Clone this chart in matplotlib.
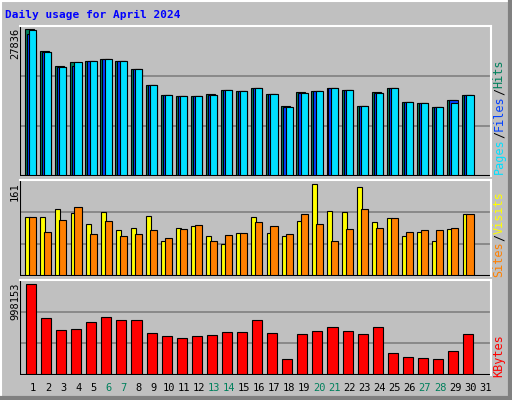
import matplotlib
matplotlib.use("Agg")
import matplotlib.pyplot as plt
from matplotlib.patches import Rectangle
import numpy as np

days = list(range(1, 32))
weekend = [6, 7, 13, 14, 20, 21, 27, 28]
hits = [27836, 23660, 20813, 21572, 21762, 22142, 21762, 20244, 17207, 15309, 15120, 15120, 15499, 16258, 16068,
        16638, 15499, 13222, 15879, 16068, 16638, 16258, 13222, 15879, 16638, 13981, 13791, 13032, 14361, 15309, 0]
files = [26950, 23470, 20624, 20877, 21762, 22142, 21762, 20244, 17207, 15309, 15120, 15120, 15309, 16258, 16068,
         16638, 15499, 13032, 15689, 16068, 16638, 16258, 13222, 15689, 16638, 13981, 13791, 13032, 14361, 15309, 0]
pages = [27646, 23470, 20624, 21572, 21762, 22142, 21762, 20244, 17207, 15309, 15120, 15120, 15309, 16258, 16068,
         16638, 15499, 13032, 15689, 16068, 16638, 16258, 13222, 15689, 16638, 13981, 13791, 13032, 13791, 15309, 0]
visits = [103, 103, 118, 110, 92, 112, 80, 85, 105, 62, 85, 87, 70, 57, 75,
          103, 75, 70, 96, 161, 115, 112, 156, 94, 101, 70, 77, 61, 82, 108, 0]
sites = [103, 78, 99, 122, 73, 96, 70, 73, 80, 66, 82, 89, 61, 72, 75,
         94, 87, 73, 108, 91, 61, 82, 117, 84, 101, 77, 80, 80, 85, 108, 0]
kbytes = [998153, 623000, 492000, 503000, 579000, 634000, 601000, 601000, 459000, 426000, 405000, 426000, 437000, 470000, 470000,
          601000, 459000, 175000, 448000, 481000, 525000, 481000, 448000, 525000, 241000, 197000, 186000, 175000, 262000, 448000, 0]

W, H = 512, 400
fig = plt.figure(figsize=(W / 100, H / 100), dpi=100)
fig.patch.set_facecolor("#c0c0c0")
mono = "DejaVu Sans Mono"

# bevelled outer border
def fx(x): return x / W
def fy(y): return 1 - y / H
fig.add_artist(plt.Line2D([0, 1], [fy(0.5), fy(0.5)], color="white", lw=1.5, transform=fig.transFigure))
fig.add_artist(plt.Line2D([fx(0.5), fx(0.5)], [0, 1], color="white", lw=1.5, transform=fig.transFigure))
fig.add_artist(plt.Line2D([0, 1], [fy(398), fy(398)], color="#808080", lw=3, transform=fig.transFigure))
fig.add_artist(plt.Line2D([fx(510), fx(510)], [0, 1], color="#808080", lw=3, transform=fig.transFigure))

x0, x1 = 20, 491
panels = [(26, 176), (180, 276), (280, 375)]
xlim = (0.137, 31.38)

def make_ax(top, bot):
    ax = fig.add_axes([fx(x0), fy(bot), fx(x1) - fx(x0), (bot - top) / H])
    ax.set_facecolor("#c0c0c0")
    ax.set_xlim(*xlim)
    ax.set_xticks([]); ax.set_yticks([])
    for s in ax.spines.values():
        s.set_visible(False)
    ax.axhline(0, color="black", lw=1.5, zorder=5)
    ax.axvline(xlim[0], color="black", lw=1.5, zorder=5)
    ax.axhline(1e12, color="white")
    return ax

d = np.array(days)
# top panel
ax = make_ax(*panels[0])
top = max(hits) * 150 / 146.7
ax.set_ylim(0, top)
for g in (top / 3, 2 * top / 3):
    ax.axhline(g, color="#808080", lw=1.2, zorder=0)
ax.bar(d - 0.53, hits, width=0.6, align="edge", color="#00805c", edgecolor="black", lw=0.8, zorder=2)
ax.bar(d - 0.40, files, width=0.6, align="edge", color="#0040ff", edgecolor="black", lw=0.8, zorder=3)
ax.bar(d - 0.25, pages, width=0.47, align="edge", color="#00e0ff", edgecolor="black", lw=0.8, zorder=4)
ax.plot([xlim[0], xlim[1]], [top, top], color="white", lw=1.5, clip_on=False, zorder=6)
ax.plot([xlim[1], xlim[1]], [0, top], color="white", lw=1.5, clip_on=False, zorder=6)

# sites/visits
ax2 = make_ax(*panels[1])
top2 = max(visits) * 96 / 91.7
ax2.set_ylim(0, top2)
for g in (top2 / 3, 2 * top2 / 3):
    ax2.axhline(g, color="#808080", lw=1.2, zorder=0)
ax2.bar(d - 0.51, visits, width=0.33, align="edge", color="#ffff00", edgecolor="black", lw=0.8, zorder=2)
ax2.bar(d - 0.25, sites, width=0.47, align="edge", color="#ff8000", edgecolor="black", lw=0.8, zorder=3)
ax2.plot([xlim[0], xlim[1]], [top2, top2], color="white", lw=1.5, clip_on=False, zorder=6)
ax2.plot([xlim[1], xlim[1]], [0, top2], color="white", lw=1.5, clip_on=False, zorder=6)

# kbytes
ax3 = make_ax(*panels[2])
top3 = max(kbytes) * 95 / 91
ax3.set_ylim(0, top3)
for g in (top3 / 3, 2 * top3 / 3):
    ax3.axhline(g, color="#808080", lw=1.2, zorder=0)
ax3.bar(d - 0.47, kbytes, width=0.67, align="edge", color="#ff0000", edgecolor="black", lw=0.8, zorder=3)
ax3.plot([xlim[0], xlim[1]], [top3, top3], color="white", lw=1.5, clip_on=False, zorder=6)
ax3.plot([xlim[1], xlim[1]], [0, top3], color="white", lw=1.5, clip_on=False, zorder=6)

# day labels
for day in days:
    ax3.text(day, -0.065 * top3 * 1.0, str(day), ha="center", va="top", family=mono, fontsize=7.5,
             color="#00805c" if day in weekend else "black", transform=ax3.transData, clip_on=False) if False else None
for day in days:
    xp = x0 + (day - xlim[0]) / (xlim[1] - xlim[0]) * (x1 - x0)
    fig.text(fx(xp), fy(388), str(day), ha="center", va="center", family=mono, fontsize=7.5,
             color="#00805c" if day in weekend else "black")

# title
fig.text(fx(5), fy(15), "Daily usage for April 2024", family=mono, fontsize=8, weight="bold",
         color="#0000ff", ha="left", va="center")

# y max labels
for lab, ytop in (("27836", 28), ("161", 182), ("998153", 282)):
    fig.text(fx(15), fy(ytop), lab, rotation=90, family=mono, fontsize=7.5, ha="center", va="top")

# right labels
def right_label(parts, ybot):
    cw = 7.2
    pos = 0
    for txt, col in parts:
        fig.text(fx(499), fy(ybot - pos * cw), txt, rotation=90, family=mono, fontsize=8.5,
                 color=col, ha="center", va="bottom")
        pos += len(txt)

right_label([("Pages", "#00e0ff"), ("/", "black"), ("Files", "#0040ff"), ("/", "black"), ("Hits", "#00805c")], 174)
right_label([("Sites", "#ff8000"), ("/", "black"), ("Visits", "#ffff00")], 277)
right_label([("KBytes", "#ff0000")], 377)

fig.savefig("out.png", dpi=100, facecolor=fig.get_facecolor())
